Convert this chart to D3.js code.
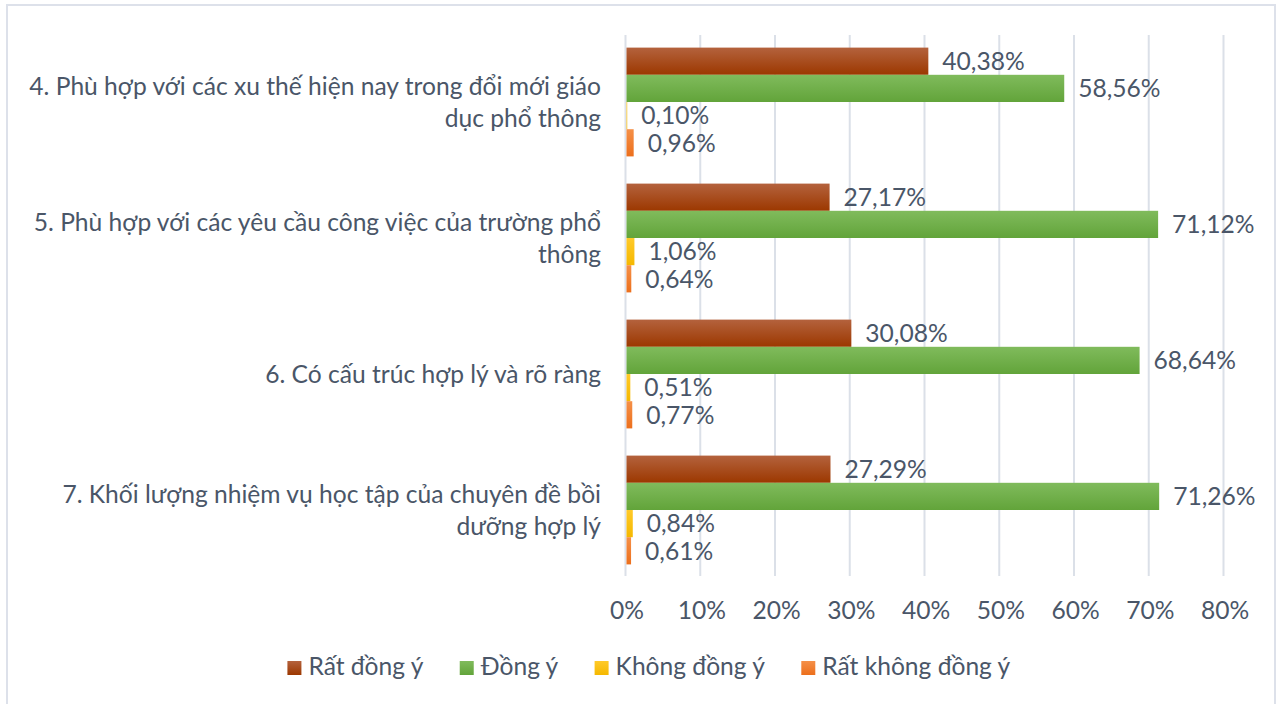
<!DOCTYPE html>
<html>
<head>
<meta charset="utf-8">
<script src="https://cdn.jsdelivr.net/npm/d3@7"></script>
<style>
  html, body { margin: 0; padding: 0; background: #fff; }
  svg { display: block; }
  text { font-family: Lato, "Open Sans", sans-serif; fill: #4a5668; }
</style>
</head>
<body>
<svg id="chart" width="1276" height="704"></svg>
<script>
const categories = [
  "4. Phù hợp với các xu thế hiện nay trong đổi mới giáo\ndục phổ thông",
  "5. Phù hợp với các yêu cầu công việc của trường phổ\nthông",
  "6. Có cấu trúc hợp lý và rõ ràng",
  "7. Khối lượng nhiệm vụ học tập của chuyên đề bồi\ndưỡng hợp lý"
];
const seriesNames = ["Rất đồng ý", "Đồng ý", "Không đồng ý", "Rất không đồng ý"];
const ratDongY = [40.38, 27.17, 30.08, 27.29];
const dongY = [58.56, 71.12, 68.64, 71.26];
const khongDongY = [0.10, 1.06, 0.51, 0.84];
const ratKhongDongY = [0.96, 0.64, 0.77, 0.61];
const xTicks = [0, 10, 20, 30, 40, 50, 60, 70, 80];

const seriesValues = [ratDongY, dongY, khongDongY, ratKhongDongY];
const colorsTop = ["#b4623d", "#80bb5c", "#ffca2a", "#f59048"];
const colorsBot = ["#9c3800", "#62a43a", "#f5b800", "#ec6f1c"];
const fmt = v => v.toFixed(2).replace(".", ",") + "%";
const FS = 24.6;

const svg = d3.select("#chart");
const defs = svg.append("defs");
colorsTop.forEach((c, i) => {
  const g = defs.append("linearGradient").attr("id", "g" + i)
    .attr("x1", 0).attr("y1", 0).attr("x2", 0).attr("y2", 1);
  g.append("stop").attr("offset", "0%").attr("stop-color", c);
  g.append("stop").attr("offset", "100%").attr("stop-color", colorsBot[i]);
});

// outer border
svg.append("rect").attr("x", 7).attr("y", 5).attr("width", 1268).attr("height", 710)
  .attr("fill", "none").attr("stroke", "#dde1ea").attr("stroke-width", 2);

const x = d3.scaleLinear().domain([0, 80]).range([626.5, 1224.5]);
const y = d3.scaleBand().domain(categories).range([34, 578]).paddingInner(0.2).paddingOuter(0.1);
const ySub = d3.scaleBand().domain(d3.range(4)).range([0, y.bandwidth()]);

// gridlines
svg.append("g").selectAll("line").data(xTicks).join("line")
  .attr("x1", d => x(d) - 1).attr("x2", d => x(d) - 1)
  .attr("y1", 35).attr("y2", 576)
  .attr("stroke", "#dbe0e8").attr("stroke-width", 2);

// x tick labels
const xAxis = d3.axisBottom(x).tickValues(xTicks).tickFormat(d => d + "%").tickSize(0).tickPadding(0);
const xg = svg.append("g").attr("transform", "translate(0,619)").call(xAxis);
xg.select(".domain").remove();
xg.selectAll("text").attr("font-size", FS).attr("dy", "0").attr("y", 0)
  .style("font-family", "Lato, sans-serif").attr("fill", "#4a5668");

// bars
categories.forEach((cat, ci) => {
  const g = svg.append("g").attr("transform", `translate(0,${y(cat)})`);
  seriesValues.forEach((vals, si) => {
    const v = vals[ci];
    g.append("rect")
      .attr("x", x(0)).attr("y", ySub(si))
      .attr("width", x(v) - x(0)).attr("height", ySub.bandwidth())
      .attr("fill", `url(#g${si})`);
    g.append("text")
      .attr("x", x(v) + 14).attr("y", ySub(si) + ySub.bandwidth() / 2)
      .attr("dy", "0.36em").attr("font-size", FS)
      .text(fmt(v));
  });
  // category label
  const lines = cat.split("\n");
  const cy = y(cat) + y.bandwidth() / 2;
  const lh = 32;
  const t = svg.append("text").attr("text-anchor", "end").attr("font-size", FS);
  lines.forEach((ln, li) => {
    t.append("tspan").attr("x", 601)
      .attr("y", cy + (li - (lines.length - 1) / 2) * lh)
      .attr("dy", "0.36em").text(ln);
  });
});

// legend
const legend = svg.append("g");
const items = legend.selectAll("g").data(seriesNames).join("g");
items.append("rect").attr("width", 14).attr("height", 14).attr("y", -14)
  .attr("fill", (d, i) => `url(#g${i})`);
items.append("text").attr("x", 21).attr("font-size", FS).text(d => d);
let cx = 0;
const pos = [];
items.each(function () {
  const w = this.getBBox().width;
  pos.push(cx);
  cx += w + 36;
});
const total = cx - 36;
const start = 649 - total / 2;
items.attr("transform", (d, i) => `translate(${start + pos[i]},675)`);
</script>
</body>
</html>
